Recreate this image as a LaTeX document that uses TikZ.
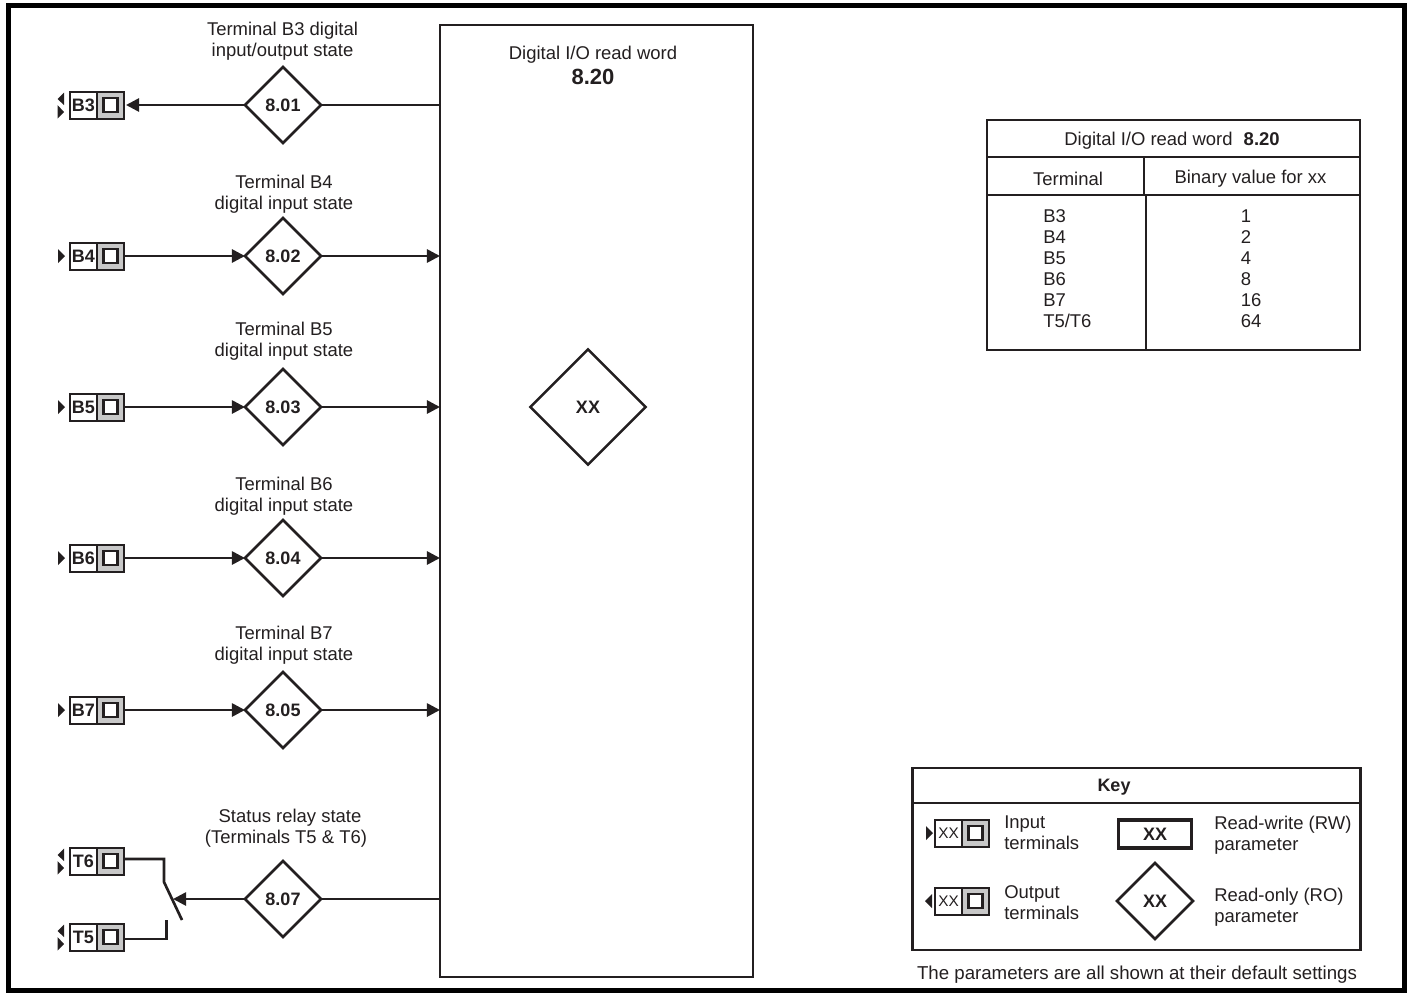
\documentclass[tikz,border=0pt]{standalone}
\usepackage{fontspec}
\setmainfont{Liberation Sans}
\usepackage{xcolor}
\usetikzlibrary{arrows.meta,positioning,calc,shapes.geometric}
\definecolor{drvLine}{RGB}{35,31,32}
\definecolor{drvGray}{RGB}{200,200,200}

\begin{document}
\begin{tikzpicture}[
  x=0.75pt, y=-0.75pt,
  font=\fontsize{13.85}{15.75}\selectfont,
  every node/.style={text=drvLine},
  lab/.style={draw=drvLine, line width=1.5pt, fill=white, minimum width=20.25pt, minimum height=20.25pt, inner sep=0pt, outer sep=0pt, font=\fontsize{13.5}{15.75}\selectfont\bfseries},
  grey/.style={draw=drvLine, line width=1.5pt, fill=drvGray, minimum width=20.25pt, minimum height=20.25pt, inner sep=0pt, outer sep=0pt},
  pin/.style={draw=drvLine, line width=1.6pt, fill=white, minimum size=10.5pt, inner sep=0pt},
  par/.style={diamond, draw=drvLine, line width=1.9pt, fill=white, minimum size=57pt, inner sep=0pt, outer sep=0pt, font=\fontsize{13.5}{15.75}\selectfont\bfseries},
  txt/.style={align=center, inner sep=0pt},
  lft/.style={align=left, inner sep=0pt, anchor=west},
  ar/.style={-{Triangle[length=9.8pt,width=9.8pt]}, draw=drvLine, line width=2pt},
  ln/.style={draw=drvLine, line width=2pt}
]
\useasboundingbox (0,0) rectangle (1407,993);
\draw[line width=3.75pt] (8.5,5.5) rectangle (1404.5,990.5);

% read word block
\node[draw=drvLine, line width=1.9pt, minimum width=234.75pt, minimum height=714pt, inner sep=0pt, outer sep=0pt] (word) at (596.5,501) {};
\node[txt] (wordt) at (593,55) {Digital I/O read word};
\node[txt, font=\fontsize{16.5}{18}\selectfont\bfseries] (wordn) at (593,77) {8.20};
\node[par, minimum size=86.5pt] (wordx) at (588,407) {XX};

% terminals
\foreach \t/\y in {B3/105, B4/256, B5/407, B6/558, B7/710, T6/861, T5/937} {
  \node[lab] (\t) at (83.5,\y) {\t};
  \node[grey, right=0pt of \t] (\t g) {};
  \node[pin] (\t p) at (\t g) {};
}
% parameters
\foreach \d/\y/\n in {d1/105/8.01, d2/256/8.02, d3/407/8.03, d4/558/8.04, d5/710/8.05, d7/899/8.07}
  \node[par] (\d) at (283,\y) {\n};

\node[txt] (l1) at (282.5,41) {Terminal B3 digital\\input/output state};
\node[txt] (l2) at (284,194) {Terminal B4\\digital input state};
\node[txt] (l3) at (284,341) {Terminal B5\\digital input state};
\node[txt] (l4) at (284,496.5) {Terminal B6\\digital input state};
\node[txt] (l5) at (284,645) {Terminal B7\\digital input state};
\node[txt] (l7) at (286,828.5) {\hspace*{6pt}Status relay state\\(Terminals T5 \& T6)};

\draw[ar, shorten >=1.5pt] (d1) -- (B3g);
\draw[ln] (d1) -- (d1 -| word.west);
\foreach \t/\d in {B4/d2, B5/d3, B6/d4, B7/d5} {
  \draw[ar] (\t g) -- (\d);
  \draw[ar] (\d) -- (\d -| word.west);
}

% relay contact
\coordinate (swa) at (164,882);
\coordinate (swb) at (182,920);
\coordinate (swc) at (166.5,920);
\coordinate (swm) at (173,899);
\draw[ln] ($(T6g.east)+(0,-2)$) -| (swa) -- (swb);
\draw[ln] ($(T5g.east)+(0,2)$) -| (swc);
\draw[ar] (d7) -- (swm);
\draw[ln] (d7) -- (d7 -| word.west);

% direction marks
\foreach \t in {B4,B5,B6,B7}
  \fill[drvLine] ($(\t.west)+(-12,-7)$) -- ++(7,7) -- ++(-7,7) -- cycle;
\foreach \t in {B3,T6,T5} {
  \fill[drvLine] ($(\t.west)+(-12.5,0)$) -- ++(6.5,7) -- ++(-6.5,6.5) -- cycle;
  \fill[drvLine] ($(\t.west)+(-6,0)$) -- ++(-6.5,-6) -- ++(6.5,-6.5) -- cycle;
}

% value table
\node[draw=drvLine, line width=1.9pt, minimum width=279.5pt, minimum height=172.5pt, inner sep=0pt, outer sep=0pt] (tbl) at (1173.5,235) {};
\draw[ln] (tbl.west |- 0,157) -- (tbl.east |- 0,157);
\draw[ln] (tbl.west |- 0,195) -- (tbl.east |- 0,195);
\draw[ln] (1144,157) -- (1144,195);
\draw[ln] (1146,195) -- (1146,350);
\node[txt] (tblt) at (1172,141) {Digital I/O read word\hspace{0.6em}\textbf{8.20}};
\node[txt] (tbla) at (1068,179) {Terminal};
\node[txt] (tblb) at (1250.5,179) {Binary value for xx};
\node[lft] (tblc) at (1043,269) {B3\\B4\\B5\\B6\\B7\\T5/T6};
\node[lft] (tbld) at (1240.5,269) {1\\2\\4\\8\\16\\64};

% key
\node[draw=drvLine, line width=1.9pt, minimum width=336pt, minimum height=136.5pt, inner sep=0pt, outer sep=0pt] (key) at (1136.5,859) {};
\draw[ln] (key.west |- 0,803) -- (key.east |- 0,803);
\node[txt, font=\fontsize{13.5}{15.75}\selectfont\bfseries] (keyt) at (1114,787) {Key};
\foreach \t/\y in {ki/833, ko/901} {
  \node[lab, font=\fontsize{11.5}{13}\selectfont] (\t) at (948.5,\y) {XX};
  \node[grey, right=0pt of \t] (\t g) {};
  \node[pin] (\t p) at (\t g) {};
}
\fill[drvLine] ($(ki.west)+(-9,-7)$) -- ++(7,7) -- ++(-7,7) -- cycle;
\fill[drvLine] ($(ko.west)+(-3,-7)$) -- ++(-7,7) -- ++(7,7) -- cycle;
\node[lft] (kia) at (1004,833) {Input\\terminals};
\node[lft] (koa) at (1004,902.5) {Output\\terminals};
\node[draw=drvLine, line width=2.6pt, minimum width=54.5pt, minimum height=20.8pt, inner sep=0pt, outer sep=0pt, font=\fontsize{13.5}{15.75}\selectfont\bfseries] (keyrw) at (1155,834) {XX};
\node[par] (keyro) at (1155,901) {XX};
\node[lft] (rwa) at (1214,835.5) {Read-write (RW)\\parameter};
\node[lft] (roa) at (1214,907.5) {Read-only (RO)\\parameter};
\node[txt, font=\fontsize{14}{15.75}\selectfont] (foot) at (1137,975) {The parameters are all shown at their default settings};
\end{tikzpicture}
\end{document}
